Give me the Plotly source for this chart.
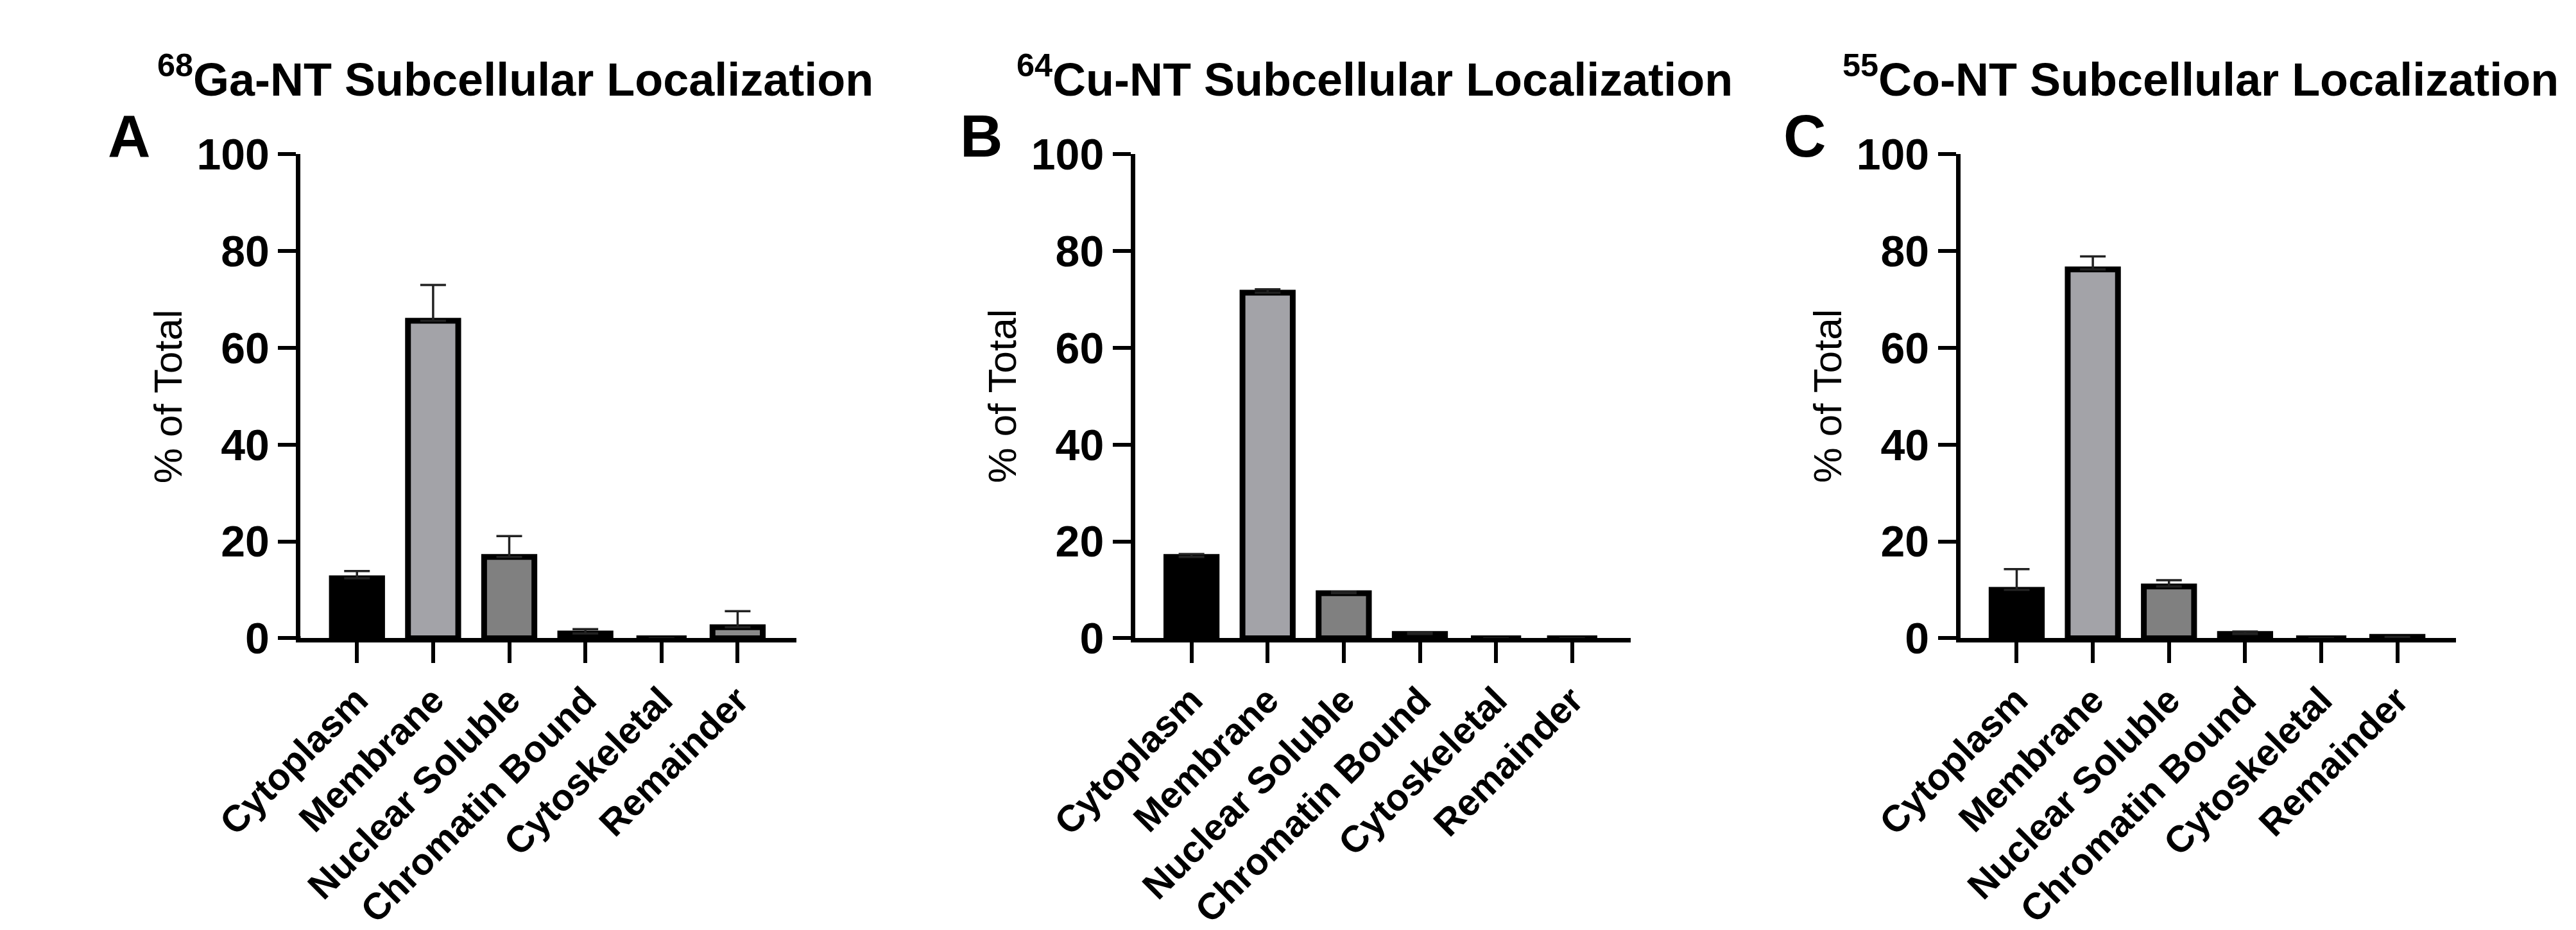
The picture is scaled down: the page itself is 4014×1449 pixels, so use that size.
import plotly.graph_objects as go

categories = ["Cytoplasm", "Membrane", "Nuclear Soluble", "Chromatin Bound", "Cytoskeletal", "Remainder"]
ga_values = [12.4, 65.6, 16.8, 1.0, 0.0, 2.3]
ga_errors = [1.5, 7.4, 4.3, 0.9, 0.0, 3.3]
cu_values = [16.8, 71.4, 9.3, 0.9, 0.0, 0.0]
cu_errors = [0.6, 0.7, 0.3, 0.3, 0.0, 0.0]
co_values = [10.0, 76.2, 10.7, 0.9, 0.0, 0.3]
co_errors = [4.3, 2.7, 1.3, 0.5, 0.0, 0.0]
titles = ["<sup>68</sup>Ga-NT Subcellular Localization",
          "<sup>64</sup>Cu-NT Subcellular Localization",
          "<sup>55</sup>Co-NT Subcellular Localization"]
letters = ["A", "B", "C"]
bar_colors = ["#000000", "#a3a3a8", "#808080", "#000000", "#000000", "#8a8a8a"]

W, H = 4014, 1449
axis_px = [333, 1680, 3012]
width_px = 800
y_bottom_px, y_top_px = 1001, 205
title_x_px = [680, 2067, 3400]
letter_x_px = [56, 1432, 2761]

FONT = "Liberation Sans, Arial, sans-serif"
fig = go.Figure()
series = [(ga_values, ga_errors), (cu_values, cu_errors), (co_values, co_errors)]
for i, (vals, errs) in enumerate(series):
    xa = "x" if i == 0 else f"x{i+1}"
    ya = "y" if i == 0 else f"y{i+1}"
    fig.add_trace(go.Bar(
        x=categories, y=vals, xaxis=xa, yaxis=ya, width=0.66,
        marker=dict(color=bar_colors, line=dict(color="black", width=9)),
        error_y=dict(type="data", array=errs, arrayminus=[0]*6, symmetric=False,
                     thickness=3.5, width=20, color="#222222"),
        showlegend=False))
    d0 = axis_px[i] / W
    d1 = (axis_px[i] + width_px) / W
    xkey = "xaxis" if i == 0 else f"xaxis{i+1}"
    ykey = "yaxis" if i == 0 else f"yaxis{i+1}"
    fig.update_layout(**{
        xkey: dict(domain=[d0, d1], anchor=ya, range=[-0.74, 5.77],
                   showline=True, linewidth=7, linecolor="black",
                   ticks="outside", ticklen=32, tickwidth=6, tickcolor="black",
                   tickangle=-45, showgrid=False, zeroline=False,
                   tickfont=dict(family=FONT, size=58, color="black", weight="bold")),
        ykey: dict(domain=[1 - y_bottom_px / H, 1 - y_top_px / H], anchor=xa,
                   range=[0, 100], tickvals=[0, 20, 40, 60, 80, 100],
                   showline=True, linewidth=7, linecolor="black",
                   ticks="outside", ticklen=28, tickwidth=6, tickcolor="black",
                   showgrid=False, zeroline=False,
                   tickfont=dict(family="Liberation Sans Narrow, " + FONT, size=68,
                                 color="black", weight="bold")),
    })
    fig.add_shape(type="line", xref=f"{xa} domain", yref=ya,
                  x0=-0.035, x1=0, y0=0, y1=0, line=dict(color="black", width=7))
    fig.add_annotation(text=titles[i], x=title_x_px[i] / W, y=1 - 77 / H,
                       xref="paper", yref="paper", showarrow=False,
                       xanchor="center", yanchor="middle",
                       font=dict(family=FONT, size=72, color="black", weight="bold"))
    fig.add_annotation(text=letters[i], x=letter_x_px[i] / W, y=1 - 175 / H,
                       xref="paper", yref="paper", showarrow=False,
                       xanchor="center", yanchor="middle",
                       font=dict(family=FONT, size=92, color="black", weight="bold"))
    fig.add_annotation(text="% of Total", x=(axis_px[i] - 215) / W,
                       y=1 - ((y_bottom_px + y_top_px) / 2) / H,
                       xref="paper", yref="paper", showarrow=False, textangle=-90,
                       xanchor="center", yanchor="middle",
                       font=dict(family=FONT, size=62, color="black"))

fig.update_layout(width=W, height=H, margin=dict(l=0, r=0, t=0, b=0),
                  plot_bgcolor="white", paper_bgcolor="white")
fig.write_html("out.html")
